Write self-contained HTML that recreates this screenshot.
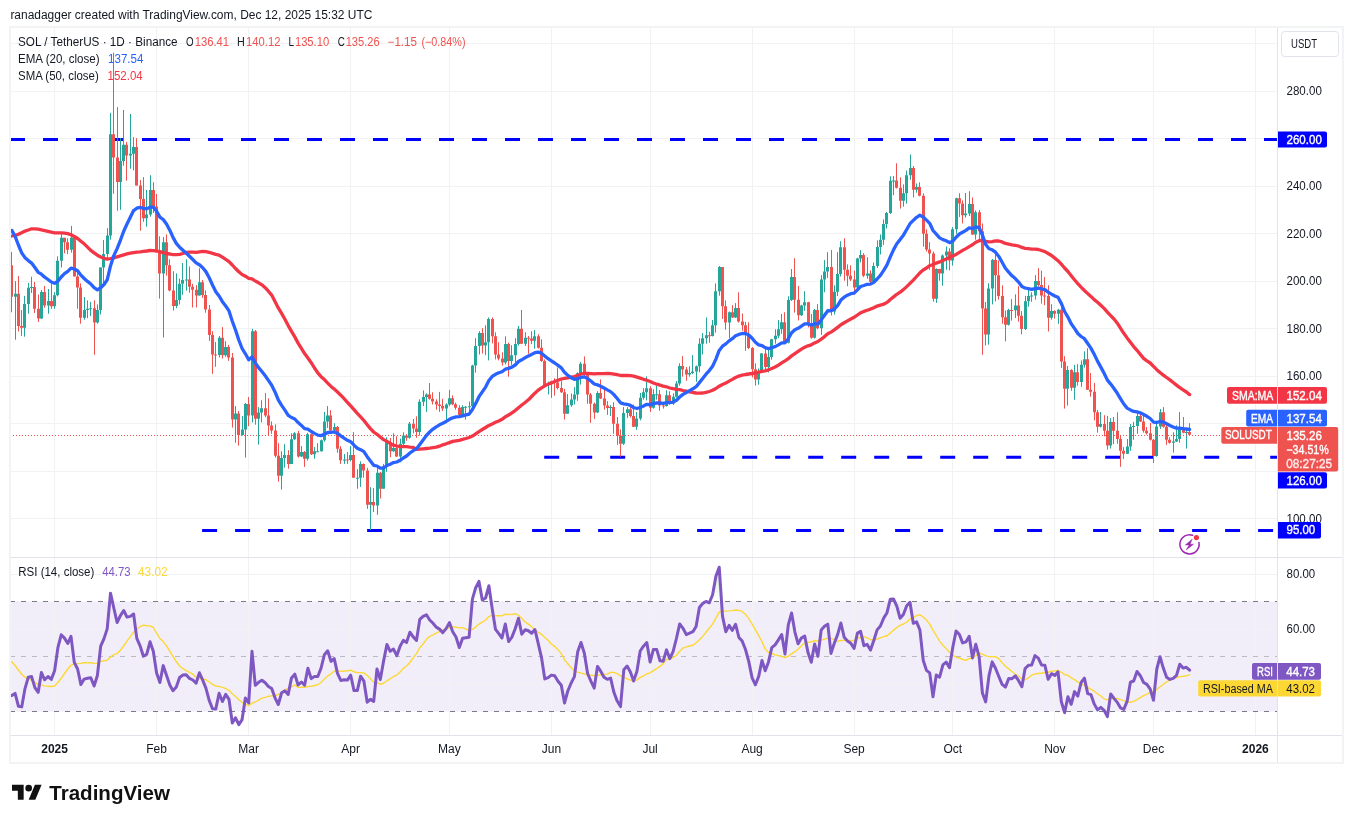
<!DOCTYPE html><html><head><meta charset="utf-8"><title>SOLUSDT chart</title>
<style>html,body{margin:0;padding:0;background:#fff}svg{display:block;font-family:'Liberation Sans', sans-serif;font-size:12px;fill:#131722}</style>
</head><body>
<svg width="1353" height="823" viewBox="0 0 1353 823">
<rect width="1353" height="823" fill="#fff"/>
<defs><clipPath id="cm"><rect x="10.5" y="28" width="1267" height="529.5"/></clipPath><linearGradient id="gg" gradientUnits="userSpaceOnUse" x1="0" y1="518.8" x2="0" y2="601.3"><stop offset="0" stop-color="#4caf50" stop-opacity="0.7"/><stop offset="1" stop-color="#4caf50" stop-opacity="0"/></linearGradient><linearGradient id="gr" gradientUnits="userSpaceOnUse" x1="0" y1="711.3" x2="0" y2="793.8"><stop offset="0" stop-color="#f44336" stop-opacity="0"/><stop offset="1" stop-color="#f44336" stop-opacity="0.7"/></linearGradient><clipPath id="cr"><rect x="10.5" y="558.5" width="1267" height="176.5"/></clipPath></defs>
<rect x="11" y="601.5" width="1266.5" height="110" fill="#f2eef9"/>
<path d="M54.5 28V735M156.5 28V735M248.5 28V735M350.5 28V735M449.5 28V735M551.5 28V735M650.5 28V735M752.5 28V735M854.5 28V735M952.5 28V735M1054.5 28V735M1153.5 28V735M1255.5 28V735M10.5 518.5H1277M10.5 471.5H1277M10.5 423.5H1277M10.5 376.5H1277M10.5 328.5H1277M10.5 281.5H1277M10.5 233.5H1277M10.5 186.5H1277M10.5 138.5H1277M10.5 91.5H1277M10.5 43.5H1277M10.5 574.5H1277M10.5 629.5H1277M10.5 684.5H1277" stroke="#f1f2f3" stroke-width="1" fill="none"/>
<path d="M10 601.5H1277" stroke="#787b86" stroke-width="1" stroke-dasharray="5 6" fill="none"/>
<path d="M10 656.5H1277" stroke="#b9bbc3" stroke-width="1" stroke-dasharray="5 6" fill="none"/>
<path d="M10 711.5H1277" stroke="#787b86" stroke-width="1" stroke-dasharray="5 6" fill="none"/>
<g clip-path="url(#cm)">
<path d="M10 139.5H25M43 139.5H58M76 139.5H91M109 139.5H124M142 139.5H157M175 139.5H190M208 139.5H223M241 139.5H256M274 139.5H289M307 139.5H322M340 139.5H355M373 139.5H388M406 139.5H421M439 139.5H454M472 139.5H487M505 139.5H520M538 139.5H553M571 139.5H586M604 139.5H619M637 139.5H652M670 139.5H685M703 139.5H718M736 139.5H751M769 139.5H784M802 139.5H817M835 139.5H850M868 139.5H883M901 139.5H916M934 139.5H949M967 139.5H982M1000 139.5H1015M1033 139.5H1048M1066 139.5H1081M1099 139.5H1114M1132 139.5H1147M1165 139.5H1180M1198 139.5H1213M1231 139.5H1246M1264 139.5H1277.5M544.2 457.3H559.2M577.2 457.3H592.2M610.2 457.3H625.2M643.2 457.3H658.2M676.2 457.3H691.2M709.2 457.3H724.2M742.2 457.3H757.2M775.2 457.3H790.2M808.2 457.3H823.2M841.2 457.3H856.2M874.2 457.3H889.2M907.2 457.3H922.2M940.2 457.3H955.2M973.2 457.3H988.2M1006.2 457.3H1021.2M1039.2 457.3H1054.2M1072.2 457.3H1087.2M1105.2 457.3H1120.2M1138.2 457.3H1153.2M1171.2 457.3H1186.2M1204.2 457.3H1219.2M1237.2 457.3H1252.2M1270.2 457.3H1277.5M202.1 530.5H217.1M235.1 530.5H250.1M268.1 530.5H283.1M301.1 530.5H316.1M334.1 530.5H349.1M367.1 530.5H382.1M400.1 530.5H415.1M433.1 530.5H448.1M466.1 530.5H481.1M499.1 530.5H514.1M532.1 530.5H547.1M565.1 530.5H580.1M598.1 530.5H613.1M631.1 530.5H646.1M664.1 530.5H679.1M697.1 530.5H712.1M730.1 530.5H745.1M763.1 530.5H778.1M796.1 530.5H811.1M829.1 530.5H844.1M862.1 530.5H877.1M895.1 530.5H910.1M928.1 530.5H943.1M961.1 530.5H976.1M994.1 530.5H1009.1M1027.1 530.5H1042.1M1060.1 530.5H1075.1M1093.1 530.5H1108.1M1126.1 530.5H1141.1M1159.1 530.5H1174.1M1192.1 530.5H1207.1M1225.1 530.5H1240.1M1258.1 530.5H1273.1" stroke="#0000ff" stroke-width="3" fill="none"/>
<path d="M15.5 281.1V339.7M24.5 295.9V336.7M28.5 283V313.7M31.5 276.7V293M41.5 290V318.9M48.5 289V313.7M54.5 292.2V308.8M57.5 256.3V296.4M61.5 234.1V267.5M71.5 225.9V252.6M84.5 297V319.7M87.5 300.4V318.2M90.5 301.9V316M97.5 304.4V323.7M100.5 267.5V314.5M103.5 240V284.8M107.5 228.2V257.8M110.5 112.9V239.7M120.5 138.2V209.8M123.5 110V165.6M130.5 114V168.8M133.5 137.1V170.3M146.5 190V226.7M150.5 175.2V216.7M163.5 237.1V337.5M176.5 273.4V308.2M179.5 278.6V304.5M182.5 263V294.9M186.5 259.3V290.7M199.5 268.2V295.6M219.5 336V357.5M225.5 341.1V356.7M235.5 406.1V442.7M242.5 416V435.5M245.5 403V457.6M252.5 328.8V422.4M258.5 407.1V444.7M261.5 400.2V422.4M281.5 451.3V489.6M284.5 444.2V467.6M291.5 433.3V463.9M294.5 432.1V440.2M301.5 446.1V457M307.5 432.8V460.5M314.5 446.9V458.8M317.5 443.2V452M321.5 439.5V451.6M324.5 412V441.7M327.5 406.1V427.9M334.5 423.2V433.5M344.5 454V463.9M350.5 446.1V461.4M357.5 469.1V488.7M360.5 461.3V486.9M370.5 487.2V530M377.5 467.9V514.8M383.5 463.9V488.7M386.5 437.3V471.8M393.5 433.3V452M400.5 438.6V462.3M403.5 432.3V447.5M409.5 422V438.6M419.5 399.3V435.6M423.5 390.4V406M426.5 393.4V411.9M446.5 403.3V422.3M449.5 389.9V406M462.5 405.2V416.3M465.5 406V419.6M469.5 401.5V411.9M472.5 364.8V407M475.5 338.2V372.7M479.5 331.2V354.5M485.5 325.3V355.2M488.5 317.4V360.4M505.5 336.3V364.4M511.5 345.2V364.9M515.5 338.2V362.3M518.5 325.9V345.6M525.5 332.3V346M534.5 330V348.6M548.5 381.6V394.5M551.5 380.7V397.9M567.5 394.1V414M571.5 393.5V406.7M574.5 387.1V404.5M577.5 372.3V400.9M580.5 361.9V384.6M597.5 391.2V413M610.5 405.2V416M623.5 407.1V444.9M627.5 407.1V417.9M636.5 412V429.8M640.5 393V420.4M643.5 388.2V399.7M646.5 376.4V400.4M653.5 389.3V408.6M656.5 385.6V399.7M666.5 390.3V406.6M673.5 393.3V404.9M676.5 381.1V397.7M679.5 363.3V385.6M689.5 366.3V376.7M692.5 355.1V374M696.5 365.5V381.9M699.5 338.2V372.2M702.5 333V354.5M706.5 317.5V343.7M712.5 320V336.5M715.5 283.4V332.7M719.5 266V295.7M729.5 311.5V338.2M735.5 303.1V318M758.5 368.5V384.8M761.5 353V372M768.5 347.9V372.5M771.5 338.8V359.7M775.5 329.3V343.7M778.5 320V338.2M781.5 314V333.8M788.5 296.3V343.4M791.5 269V301M801.5 304.8V316M804.5 291.2V310.8M814.5 309V338.5M821.5 275.2V334.8M824.5 260.1V292.3M827.5 252.2V277.9M834.5 285.3V314.5M837.5 252.2V296M840.5 241.2V276.5M857.5 257.8V289M860.5 250.1V262.4M867.5 257.2V278.7M873.5 262.4V282.5M877.5 240.4V268M880.5 234.5V254.5M883.5 219.4V244.9M886.5 212V228.6M890.5 176.4V214M893.5 175.9V195.2M903.5 184.4V206.6M906.5 170.5V203.7M910.5 154.4V179.7M916.5 183.4V192.7M936.5 268.3V302.9M942.5 254.5V285.7M946.5 246.5V269.8M952.5 227.1V265.5M956.5 197.7V233.8M965.5 193V217.5M969.5 191.2V216M975.5 210.5V239.7M988.5 283.2V344.7M992.5 259V304.4M1008.5 308.8V325.5M1015.5 294.3V318M1025.5 295.9V330M1028.5 288.5V306.7M1031.5 292.3V301.8M1035.5 275.1V299.7M1051.5 304.2V319.6M1058.5 308.9V323.8M1067.5 366V405.6M1074.5 364.8V399.7M1081.5 360.4V386.8M1084.5 351.2V367.5M1100.5 412V427.5M1110.5 418.2V448.6M1127.5 439V454M1130.5 424.1V450.8M1133.5 421.9V439.7M1137.5 412.3V433.8M1156.5 420.9V456.7M1160.5 409V428.9M1173.5 432.3V452.6M1176.5 425.3V442M1179.5 412V442.7M1186.5 428.6V448.6" stroke="#26a69a" stroke-width="1" fill="none"/>
<path d="M14 293.7h3V296.7h-3zM23 304.1h3V327.8h-3zM27 287.8h3V304.1h-3zM30 287h3V288h-3zM40 291.9h3V318.6h-3zM47 301.1h3V305.6h-3zM53 295.2h3V306.3h-3zM56 260.8h3V295.2h-3zM60 237.8h3V260.8h-3zM70 237.8h3V249.7h-3zM83 310h3V317.7h-3zM86 308.8h3V310h-3zM89 308.2h3V309.2h-3zM96 310h3V322.6h-3zM99 267.5h3V310h-3zM102 254.1h3V267.5h-3zM106 235.6h3V254.1h-3zM109 134.2h3V235.6h-3zM119 161.1h3V181.9h-3zM122 144.8h3V161.1h-3zM129 153.7h3V155.5h-3zM132 147h3V153.7h-3zM145 214.5h3V218.2h-3zM149 190h3V214.5h-3zM162 242.3h3V273.4h-3zM175 300h3V306h-3zM178 283.8h3V300h-3zM181 280h3V283.8h-3zM185 279.6h3V280.6h-3zM198 282.3h3V295.6h-3zM218 337.7h3V355h-3zM224 347.1h3V355.2h-3zM234 413.5h3V419.5h-3zM241 429.4h3V435h-3zM244 403.9h3V429.4h-3zM251 331.2h3V415.5h-3zM257 412.5h3V418.7h-3zM260 408.3h3V412.5h-3zM280 458h3V475.8h-3zM283 455h3V458h-3zM290 439.2h3V463.9h-3zM293 433.3h3V439.2h-3zM300 452.1h3V456.5h-3zM306 434.3h3V458.8h-3zM313 451.3h3V454.3h-3zM316 451.3h3V452.3h-3zM320 440.2h3V451.3h-3zM323 421.4h3V440.2h-3zM326 415.5h3V421.4h-3zM333 426.9h3V430.6h-3zM343 459.5h3V460.5h-3zM349 455h3V459.9h-3zM356 477.7h3V478.7h-3zM359 463.9h3V477.7h-3zM369 502h3V504.7h-3zM376 472.8h3V505.5h-3zM382 466.2h3V488.7h-3zM385 442.1h3V466.2h-3zM392 448.1h3V451.3h-3zM399 443.8h3V456.5h-3zM402 435.6h3V443.8h-3zM408 423.8h3V437.8h-3zM418 401.8h3V431.9h-3zM422 397.1h3V401.8h-3zM425 394.4h3V397.1h-3zM445 404.5h3V408.6h-3zM448 398.3h3V404.5h-3zM461 407.1h3V414.9h-3zM464 406.7h3V407.7h-3zM468 406.3h3V407.3h-3zM471 365.6h3V406.3h-3zM474 346h3V365.6h-3zM478 333h3V346h-3zM484 342.2h3V345.6h-3zM487 318.9h3V342.2h-3zM504 344.1h3V362.6h-3zM510 355.2h3V360.9h-3zM514 344.1h3V355.2h-3zM517 328.8h3V344.1h-3zM524 337.7h3V343.7h-3zM533 336.3h3V340.7h-3zM547 383.7h3V384.9h-3zM550 381.6h3V383.7h-3zM566 405.2h3V413.7h-3zM570 399.4h3V405.2h-3zM573 394.5h3V399.4h-3zM576 373.3h3V394.5h-3zM579 363.8h3V373.3h-3zM596 393h3V412.6h-3zM609 407.1h3V408.1h-3zM622 413h3V443.7h-3zM626 409.3h3V413h-3zM635 418.5h3V426.8h-3zM639 397.7h3V418.5h-3zM642 392.3h3V397.7h-3zM645 388.2h3V392.3h-3zM652 394.2h3V407.8h-3zM655 394.2h3V395.2h-3zM665 395.2h3V406h-3zM672 396.7h3V403.4h-3zM675 383.4h3V396.7h-3zM678 366h3V383.4h-3zM688 373h3V374.5h-3zM691 371.5h3V373h-3zM695 366.3h3V371.5h-3zM698 343.7h3V366.3h-3zM701 338.2h3V343.7h-3zM705 335.2h3V338.2h-3zM711 325.3h3V336h-3zM714 291.2h3V325.3h-3zM718 267h3V291.2h-3zM728 312.3h3V322.6h-3zM734 308.1h3V317.5h-3zM757 371h3V379.4h-3zM760 353.4h3V371h-3zM767 357h3V367h-3zM770 339.3h3V357h-3zM774 335.7h3V339.3h-3zM777 329.3h3V335.7h-3zM780 322.3h3V329.3h-3zM787 300.1h3V342.7h-3zM790 277h3V300.1h-3zM800 305.6h3V315.2h-3zM803 302.2h3V305.6h-3zM813 310h3V337.8h-3zM820 279.4h3V328.3h-3zM823 271.5h3V279.4h-3zM826 267h3V271.5h-3zM833 291.8h3V311.5h-3zM836 274h3V291.8h-3zM839 247.2h3V274h-3zM856 258.4h3V287.6h-3zM859 255h3V258.4h-3zM866 273.5h3V275.8h-3zM872 266.1h3V281.7h-3zM876 247.1h3V266.1h-3zM879 239.7h3V247.1h-3zM882 224.1h3V239.7h-3zM885 213h3V224.1h-3zM889 180.8h3V213h-3zM892 180.5h3V181.5h-3zM902 193.3h3V200.7h-3zM905 175.2h3V193.3h-3zM909 168.1h3V175.2h-3zM915 187.1h3V189.7h-3zM935 269.1h3V298.8h-3zM941 255.5h3V273.5h-3zM945 251.4h3V255.5h-3zM951 229.3h3V260.5h-3zM955 198.2h3V229.3h-3zM964 213.5h3V215.2h-3zM968 204.1h3V213.5h-3zM974 212.3h3V234.5h-3zM987 288.4h3V334.6h-3zM991 259.9h3V288.4h-3zM1007 309.9h3V324.7h-3zM1014 305.4h3V310.2h-3zM1024 301.2h3V328.9h-3zM1027 295.9h3V301.2h-3zM1030 295.6h3V296.6h-3zM1034 281.1h3V295.6h-3zM1050 311.1h3V317.8h-3zM1057 309.7h3V313.7h-3zM1066 370h3V388.8h-3zM1073 372.2h3V387.8h-3zM1080 364.8h3V381.9h-3zM1083 359.2h3V364.8h-3zM1099 424.1h3V426.8h-3zM1109 421.9h3V445.6h-3zM1126 446.4h3V453.8h-3zM1129 427.1h3V446.4h-3zM1132 425.9h3V427.1h-3zM1136 416h3V425.9h-3zM1155 426.4h3V456h-3zM1159 412.3h3V426.4h-3zM1172 441.6h3V442.7h-3zM1175 439h3V441.6h-3zM1178 428.6h3V439h-3zM1185 432h3V433h-3z" fill="#26a69a"/>
<path d="M11.5 251.9V312.3M18.5 275.9V331.5M21.5 310V336M34.5 281.9V313M38.5 294.5V321.9M44.5 286V307.8M51.5 283.3V308.8M64.5 237.8V253.4M67.5 238.3V254.1M74.5 235.6V276.4M77.5 272.6V308.8M80.5 283.3V323.7M94.5 300.4V354.8M113.5 52.7V193.8M117.5 107.1V210.8M126.5 141.9V180.7M136.5 138.2V185.6M140.5 180.1V230.8M143.5 177.1V221.9M153.5 182.2V213M156.5 194V250.4M159.5 236.3V298.6M166.5 234.4V275.6M169.5 259.3V291.2M173.5 271.2V310.5M189.5 266.4V292.7M192.5 283.8V307.5M196.5 285.2V307.5M202.5 280V297.9M205.5 290.4V312.7M209.5 305V340.9M212.5 331.2V373.8M215.5 341.9V366.8M222.5 327.1V358.5M228.5 344.9V360.9M232.5 353V427.6M238.5 411V445.7M248.5 397V426.1M255.5 330V424.7M265.5 393V417.2M268.5 398.3V435.3M271.5 421.4V433.8M275.5 424.4V457.6M278.5 443.2V481.7M288.5 450.2V468.7M298.5 430.9V457.6M304.5 451V466.9M311.5 433.3V455M330.5 410.1V432.4M337.5 426V452.8M340.5 446.1V463.9M347.5 452.1V463.9M353.5 432.1V477.7M363.5 463.5V477.7M367.5 467.9V508.9M373.5 488.1V512.1M380.5 472V498.5M390.5 438V457.3M396.5 436.2V457M406.5 434.1V440.8M413.5 419V433.4M416.5 416.3V437.8M429.5 383V399.7M432.5 392.3V404.5M436.5 399.3V409.7M439.5 391.9V411.9M442.5 398.8V411.1M452.5 395.3V405.2M455.5 402.7V409.7M459.5 405.2V415.5M482.5 328.2V353.5M492.5 317.4V343.4M495.5 332.3V359.4M498.5 342.2V360.4M502.5 352.3V365.6M508.5 342.6V376.7M521.5 310V344.1M528.5 336V353.8M531.5 331.2V344.1M538.5 334.2V348.6M541.5 339.2V361.9M544.5 359.4V385.2M554.5 378.2V395.6M557.5 367.4V389.5M561.5 380.7V393M564.5 388.9V419.6M584.5 356.4V377.8M587.5 372.5V403.8M590.5 393V422.9M594.5 402.6V418.9M600.5 379.4V399M604.5 389.3V409.6M607.5 401.1V414.9M613.5 402.2V433.8M617.5 417V444.9M620.5 429.3V456.7M630.5 404.1V417.5M633.5 404.6V427M650.5 386.3V412M659.5 390V410.8M663.5 402.6V408.6M669.5 391.2V404.6M682.5 356.1V376.7M686.5 367V380.8M709.5 331.8V342.7M722.5 267V318.9M725.5 300.4V329.8M732.5 305.2V318M738.5 292.3V322.6M742.5 313.5V330.8M745.5 321.9V350.8M748.5 322.3V349M752.5 347V377.4M755.5 363.3V385.6M765.5 348.6V370.8M784.5 312.3V343.7M794.5 258.2V312.6M798.5 285.9V320.4M808.5 301.8V327.4M811.5 314V338.7M817.5 304.1V329.3M831.5 250V315.5M844.5 238.3V280.7M847.5 264.4V286.2M850.5 265.4V281M854.5 270.6V294.6M863.5 253.1V277M870.5 270.3V283M896.5 163.3V188.5M900.5 177.4V208.6M913.5 166V197.4M919.5 182.3V196.3M923.5 193.3V246.7M926.5 229.3V251.6M929.5 242.2V269.8M933.5 251.6V301.7M939.5 268.8V280.7M949.5 248.3V270.4M959.5 193.3V217M962.5 200.4V223.4M972.5 197.4V235M979.5 210V239.7M982.5 223.4V354.8M985.5 302V345.5M995.5 254.3V301.4M998.5 260.5V299.5M1002.5 285.4V323.7M1005.5 310.6V341.4M1011.5 299V320.7M1018.5 286.1V321.7M1021.5 311.1V334.4M1038.5 268.2V286.5M1041.5 270.7V303.7M1044.5 277V305.2M1048.5 285.2V331.5M1054.5 310.3V318.6M1061.5 307.4V367.9M1064.5 356.2V408.6M1071.5 369.2V390.8M1077.5 364.1V385.6M1087.5 348.2V390M1090.5 373V396.7M1094.5 382.9V420.4M1097.5 410V432.7M1104.5 415.2V436.3M1107.5 416V449.6M1113.5 417V444.1M1117.5 412.3V443.7M1120.5 435.2V466.8M1123.5 447.1V459M1140.5 413V422M1143.5 415.2V432.7M1146.5 427.1V434.5M1150.5 422.9V440.5M1153.5 439V463M1163.5 407.1V427.8M1166.5 422.3V444.9M1169.5 437.2V443.7M1183.5 417V433.3M1189.5 423.2V435.1" stroke="#ef5350" stroke-width="1" fill="none"/>
<path d="M10 265.2h3V296.7h-3zM17 293.7h3V326h-3zM20 326h3V327.8h-3zM33 287h3V308.8h-3zM37 308.8h3V318.6h-3zM43 291.9h3V305.6h-3zM50 301.1h3V306.3h-3zM63 237.8h3V242.3h-3zM66 242.3h3V249.7h-3zM73 237.8h3V276.4h-3zM76 276.4h3V287.5h-3zM79 287.5h3V317.7h-3zM93 308.2h3V322.6h-3zM112 134.2h3V157.4h-3zM116 157.4h3V181.9h-3zM125 144.8h3V155.5h-3zM135 147h3V185.6h-3zM139 185.6h3V198.9h-3zM142 198.9h3V218.2h-3zM152 190h3V206.4h-3zM155 206.4h3V250.4h-3zM158 250.4h3V273.4h-3zM165 242.3h3V265.2h-3zM168 265.2h3V290.4h-3zM172 290.4h3V306h-3zM188 279.6h3V286.7h-3zM191 286.7h3V289.7h-3zM195 289.7h3V295.6h-3zM201 282.3h3V294.9h-3zM204 294.9h3V309.5h-3zM208 309.5h3V334.9h-3zM211 334.9h3V354.5h-3zM214 354.5h3V355.5h-3zM221 337.7h3V355.2h-3zM227 347.1h3V357.5h-3zM231 357.5h3V419.5h-3zM237 413.5h3V435h-3zM247 403.9h3V415.5h-3zM254 331.2h3V418.7h-3zM264 408.3h3V415.5h-3zM267 415.5h3V425.4h-3zM270 425.4h3V430.6h-3zM274 430.6h3V455.8h-3zM277 455.8h3V475.8h-3zM287 455h3V463.9h-3zM297 433.3h3V456.5h-3zM303 452.1h3V458.8h-3zM310 434.3h3V454.3h-3zM329 415.5h3V430.6h-3zM336 426.9h3V448.7h-3zM339 448.7h3V460.2h-3zM346 459.5h3V460.5h-3zM352 455h3V477.7h-3zM362 463.9h3V470.6h-3zM366 470.6h3V504.7h-3zM372 502h3V505.5h-3zM379 472.8h3V488.7h-3zM389 442.1h3V451.3h-3zM395 448.1h3V456.5h-3zM405 435.6h3V437.8h-3zM412 423.8h3V428.5h-3zM415 428.5h3V431.9h-3zM428 394.4h3V398.8h-3zM431 398.8h3V401.5h-3zM435 401.5h3V404.5h-3zM438 404.5h3V406h-3zM441 406h3V408.6h-3zM451 398.3h3V404.2h-3zM454 404.2h3V407.7h-3zM458 407.7h3V414.9h-3zM481 333h3V345.6h-3zM491 318.9h3V336.3h-3zM494 336.3h3V354.5h-3zM497 354.5h3V358.5h-3zM501 358.5h3V362.6h-3zM507 344.1h3V360.9h-3zM520 328.8h3V343.7h-3zM527 337.7h3V338.7h-3zM530 338.6h3V340.7h-3zM537 336.3h3V347.8h-3zM540 347.8h3V360.9h-3zM543 360.9h3V384.9h-3zM553 381.6h3V382.6h-3zM556 382.4h3V388.1h-3zM560 388.1h3V392.3h-3zM563 392.3h3V413.7h-3zM583 363.8h3V373.3h-3zM586 373.3h3V394.5h-3zM589 394.5h3V403.7h-3zM593 403.7h3V412.6h-3zM599 393h3V398.6h-3zM603 398.6h3V405.6h-3zM606 405.6h3V408.1h-3zM612 407.1h3V423.7h-3zM616 423.7h3V435.7h-3zM619 435.7h3V443.7h-3zM629 409.3h3V416h-3zM632 416h3V426.8h-3zM649 388.2h3V407.8h-3zM658 394.2h3V405.6h-3zM662 405.6h3V406.6h-3zM668 395.2h3V403.4h-3zM681 366h3V369.5h-3zM685 369.5h3V374.5h-3zM708 335.2h3V336.2h-3zM721 267h3V306.3h-3zM724 306.3h3V322.6h-3zM731 312.3h3V317.5h-3zM737 308.1h3V321.5h-3zM741 321.5h3V325.3h-3zM744 325.3h3V334.2h-3zM747 334.2h3V347.9h-3zM751 347.9h3V369.3h-3zM754 369.3h3V379.4h-3zM764 353.4h3V367h-3zM783 322.3h3V342.7h-3zM793 277h3V299.7h-3zM797 299.7h3V315.2h-3zM807 302.2h3V323.8h-3zM810 323.8h3V337.8h-3zM816 310h3V328.3h-3zM830 267h3V311.5h-3zM843 247.2h3V269.8h-3zM846 269.8h3V275.8h-3zM849 275.8h3V279.5h-3zM853 279.5h3V287.6h-3zM862 255h3V275.8h-3zM869 273.5h3V281.7h-3zM895 180.5h3V187.8h-3zM899 187.8h3V200.7h-3zM912 168.1h3V189.7h-3zM918 187.1h3V195.7h-3zM922 195.7h3V233.8h-3zM925 233.8h3V249.6h-3zM928 249.6h3V253.6h-3zM932 253.6h3V298.8h-3zM938 269.1h3V273.5h-3zM948 251.4h3V260.5h-3zM958 198.2h3V203.4h-3zM961 203.4h3V215.2h-3zM971 204.1h3V234.5h-3zM978 212.3h3V231.2h-3zM981 231.2h3V308.4h-3zM984 308.4h3V334.6h-3zM994 259.9h3V275.3h-3zM997 275.3h3V296.1h-3zM1001 296.1h3V317.3h-3zM1004 317.3h3V324.7h-3zM1010 309.9h3V310.9h-3zM1017 305.4h3V315.8h-3zM1020 315.8h3V328.9h-3zM1037 281.1h3V284.9h-3zM1040 284.9h3V295.6h-3zM1043 295.6h3V296.6h-3zM1047 295.9h3V317.8h-3zM1053 311.1h3V313.7h-3zM1060 309.7h3V361.5h-3zM1063 361.5h3V388.8h-3zM1070 370h3V387.8h-3zM1076 372.2h3V381.9h-3zM1086 359.2h3V389.7h-3zM1089 389.7h3V391.8h-3zM1093 391.8h3V412.3h-3zM1096 412.3h3V426.8h-3zM1103 424.1h3V430.8h-3zM1106 430.8h3V445.6h-3zM1112 421.9h3V430.8h-3zM1116 430.8h3V439h-3zM1119 439h3V450.8h-3zM1122 450.8h3V453.8h-3zM1139 416h3V421.5h-3zM1142 421.5h3V430.8h-3zM1145 430.8h3V433.3h-3zM1149 433.3h3V439.7h-3zM1152 439.7h3V456h-3zM1162 412.3h3V426.8h-3zM1165 426.8h3V439.7h-3zM1168 439.7h3V442.7h-3zM1182 428.6h3V432.7h-3zM1188 432h3V434.8h-3z" fill="#ef5350"/>
<path d="M10 435.5H1221" stroke="#ef5350" stroke-width="1" stroke-dasharray="1 2" fill="none"/>
<polyline points="11.8,236 15.1,235.3 18.4,234.3 21.7,232.7 25,231.1 28.3,230 31.6,228.8 34.9,228.9 38.2,229.2 41.4,229.8 44.7,230.6 48,231.4 51.3,232.2 54.6,232.9 57.9,232.9 61.2,232.9 64.5,233.2 67.8,233.6 71,234.7 74.3,236.5 77.6,238.5 80.9,241.2 84.2,243.8 87.5,247.1 90.8,250.4 94.1,252.9 97.4,255.2 100.7,257 104,258.3 107.2,259.1 110.5,258.5 113.8,257.8 117.1,256.8 120.4,255.8 123.7,254.8 127,253.9 130.3,253.1 133.6,252.6 136.8,252.1 140.1,251.8 143.4,251.4 146.7,251 150,250.5 153.3,250.7 156.6,251 159.9,251.6 163.2,252.6 166.5,253.5 169.8,254 173,254.6 176.3,254.6 179.6,254.4 182.9,253.5 186.2,252.5 189.5,252.2 192.8,252.2 196.1,252.4 199.4,251.9 202.7,251.4 205.9,251.7 209.2,252.3 212.5,253.4 215.8,254.4 219.1,255.2 222.4,257.1 225.7,259.3 229,261.6 232.3,265 235.5,268.5 238.8,271.7 242.1,274.5 245.4,276.2 248.7,278.4 252,278.8 255.3,281 258.6,282.8 261.9,284.8 265.2,287.7 268.4,291.2 271.7,295.1 275,301.5 278.3,307.9 281.6,313.4 284.9,319.3 288.2,325.6 291.5,331.3 294.8,336.9 298.1,343.1 301.4,348.4 304.6,353.6 307.9,358 311.2,362.7 314.5,368 317.8,372.9 321.1,376.7 324.4,379.6 327.7,383.1 331,386.4 334.2,389.1 337.5,392 340.8,395.2 344.1,398.7 347.4,402.3 350.7,405.8 354,409.6 357.3,413.4 360.6,416.8 363.9,420.5 367.2,424.7 370.4,428.6 373.7,432 377,434.3 380.3,437 383.6,439.6 386.9,441.3 390.2,443.4 393.5,445.2 396.8,446 400.1,446.6 403.3,446.6 406.6,446.7 409.9,447.1 413.2,447.4 416.5,449.4 419.8,449.1 423.1,448.8 426.4,448.5 429.7,448.2 433,447.7 436.2,447.2 439.5,446.2 442.8,444.8 446.1,443.8 449.4,442.6 452.7,441.4 456,440.8 459.3,440.4 462.6,439.4 465.9,438.5 469.1,437.5 472.4,436.1 475.7,433.9 479,431.6 482.3,429.5 485.6,427.5 488.9,425.4 492.2,423.9 495.5,422.3 498.8,421 502,419.3 505.3,416.9 508.6,415 511.9,412.9 515.2,410.6 518.5,407.7 521.8,405 525.1,402.5 528.4,399.8 531.6,396.5 534.9,393.2 538.2,390.1 541.5,387.8 544.8,385.8 548.1,384.1 551.4,382.9 554.7,381.5 558,380.3 561.3,379 564.5,378.4 567.8,377.8 571.1,377.1 574.4,376.5 577.7,375.4 581,374 584.3,373.4 587.6,373.4 590.9,373.6 594.2,373.9 597.5,373.7 600.7,373.6 604,373.6 607.3,373.5 610.6,373.6 613.9,374.1 617.2,374.7 620.5,375.5 623.8,375.4 627.1,375.5 630.4,375.6 633.6,376.1 636.9,377.1 640.2,378.1 643.5,379.3 646.8,380.2 650.1,381.5 653.4,383 656.7,384.2 660,385.2 663.2,386.1 666.5,386.8 669.8,388 673.1,388.7 676.4,389.3 679.7,389.7 683,390.5 686.3,391.1 689.6,391.8 692.9,392.5 696.1,393 699.4,393.1 702.7,393 706,392.4 709.3,391.5 712.6,390.3 715.9,388.5 719.2,386.2 722.5,384.5 725.8,383.1 729.1,381.1 732.3,379.4 735.6,377.5 738.9,376.1 742.2,375.1 745.5,374.5 748.8,374 752.1,373.5 755.4,373 758.7,372.2 762,371.4 765.2,370.8 768.5,369.8 771.8,368.4 775.1,367 778.4,365.1 781.7,362.8 785,360.8 788.3,358.6 791.6,355.9 794.9,353.6 798.1,351.4 801.4,349.1 804.7,347.2 808,345.8 811.3,344.8 814.6,342.9 817.9,341.5 821.2,339.2 824.5,336.6 827.8,333.8 831,332.1 834.3,329.9 837.6,327.4 840.9,324.7 844.2,322.8 847.5,320.9 850.8,319 854.1,317.3 857.4,315 860.6,312.8 863.9,311.4 867.2,310.2 870.5,309.1 873.8,307.7 877.1,306.1 880.4,305.1 883.7,304.2 887,302.4 890.3,299.5 893.6,296.9 896.8,294.3 900.1,292.2 903.4,289.6 906.7,286.6 910,283.3 913.3,280.1 916.6,276.5 919.9,272.8 923.2,270 926.5,268 929.7,265.7 933,264.5 936.3,263.1 939.6,261.9 942.9,260.4 946.2,259 949.5,257.3 952.8,255.9 956.1,254.4 959.4,252.4 962.6,250.4 965.9,248.6 969.2,246.6 972.5,244.8 975.8,242.3 979.1,240.7 982.4,240.4 985.7,241.5 989,241.8 992.2,241.7 995.5,240.9 998.8,241 1002.1,241.9 1005.4,243.4 1008.7,244.2 1012,244.9 1015.3,245.4 1018.6,246 1021.9,247.4 1025.1,248.3 1028.4,248.7 1031.7,249.2 1035,249.2 1038.3,249.5 1041.6,250.5 1044.9,251.6 1048.2,253.5 1051.5,255.5 1054.8,258.1 1058,260.7 1061.3,264.2 1064.6,268 1067.9,271.5 1071.2,275.7 1074.5,279.8 1077.8,283.7 1081.1,287.2 1084.4,290.5 1087.7,293.6 1090.9,296.4 1094.2,299.6 1097.5,302.2 1100.8,305.3 1104.1,308.4 1107.4,312.2 1110.7,315.6 1114,319 1117.3,323.2 1120.6,328.3 1123.8,333.3 1127.1,337.9 1130.4,342.2 1133.7,346.6 1137,350.3 1140.3,354.4 1143.6,358.4 1146.9,360.9 1150.2,363 1153.5,366.4 1156.8,369.7 1160,372.5 1163.3,375.1 1166.6,377.5 1169.9,379.9 1173.2,382.5 1176.5,385.1 1179.8,387.6 1183.1,389.9 1186.4,392 1189.6,394.6" fill="none" stroke="#f23645" stroke-width="3.3" stroke-linejoin="round" stroke-linecap="round"/>
<polyline points="11.8,230.4 15.1,236.4 18.4,245 21.7,252.8 25,257.7 28.3,260.6 31.6,263.1 34.9,267.5 38.2,272.3 41.4,274.2 44.7,277.2 48,279.5 51.3,282 54.6,283.3 57.9,281.1 61.2,277 64.5,273.7 67.8,271.4 71,268.2 74.3,269 77.6,270.8 80.9,275.2 84.2,278.5 87.5,281.4 90.8,284 94.1,287.7 97.4,289.8 100.7,287.7 104,284.5 107.2,279.8 110.5,265.9 113.8,255.6 117.1,248.6 120.4,240.3 123.7,231.2 127,224 130.3,217.3 133.6,210.6 136.8,208.2 140.1,207.3 143.4,208.3 146.7,208.9 150,207.1 153.3,207.1 156.6,211.2 159.9,217.1 163.2,219.5 166.5,223.9 169.8,230.2 173,237.4 176.3,243.4 179.6,247.2 182.9,250.3 186.2,253.1 189.5,256.3 192.8,259.5 196.1,262.9 199.4,264.8 202.7,267.7 205.9,271.6 209.2,277.7 212.5,285 215.8,291.7 219.1,296 222.4,301.7 225.7,306 229,310.9 232.3,321.2 235.5,330 238.8,340 242.1,348.5 245.4,353.8 248.7,359.7 252,357 255.3,362.9 258.6,367.6 261.9,371.5 265.2,375.7 268.4,380.4 271.7,385.2 275,391.9 278.3,399.9 281.6,405.4 284.9,410.1 288.2,415.3 291.5,417.5 294.8,419 298.1,422.6 301.4,425.4 304.6,428.6 307.9,429.1 311.2,431.5 314.5,433.4 317.8,435.1 321.1,435.6 324.4,434.3 327.7,432.5 331,432.3 334.2,431.8 337.5,433.4 340.8,435.9 344.1,438.2 347.4,440.3 350.7,441.7 354,445.1 357.3,448.2 360.6,449.7 363.9,451.7 367.2,456.7 370.4,461 373.7,465.3 377,466 380.3,468.2 383.6,468 386.9,465.5 390.2,464.2 393.5,462.6 396.8,462 400.1,460.3 403.3,458 406.6,456 409.9,453 413.2,450.6 416.5,448.8 419.8,444.4 423.1,439.9 426.4,435.5 429.7,432 433,429.1 436.2,426.8 439.5,424.8 442.8,423.3 446.1,421.5 449.4,419.3 452.7,417.8 456,416.9 459.3,416.7 462.6,415.8 465.9,414.9 469.1,414.1 472.4,409.5 475.7,403.4 479,396.7 482.3,391.8 485.6,387.1 488.9,380.6 492.2,376.4 495.5,374.3 498.8,372.8 502,371.8 505.3,369.2 508.6,368.4 511.9,367.1 515.2,365 518.5,361.5 521.8,359.8 525.1,357.7 528.4,355.9 531.6,354.4 534.9,352.7 538.2,352.2 541.5,353.1 544.8,356.1 548.1,358.7 551.4,360.9 554.7,363 558,365.3 561.3,367.9 564.5,372.3 567.8,375.4 571.1,377.7 574.4,379.3 577.7,378.7 581,377.3 584.3,376.9 587.6,378.6 590.9,381 594.2,384 597.5,384.9 600.7,386.2 604,388 607.3,389.9 610.6,391.6 613.9,394.6 617.2,398.5 620.5,402.8 623.8,403.8 627.1,404.3 630.4,405.4 633.6,407.5 636.9,408.5 640.2,407.5 643.5,406 646.8,404.3 650.1,404.7 653.4,403.7 656.7,402.8 660,403 663.2,403.3 666.5,402.6 669.8,402.6 673.1,402.1 676.4,400.3 679.7,397 683,394.4 686.3,392.5 689.6,390.6 692.9,388.8 696.1,386.7 699.4,382.6 702.7,378.4 706,374.2 709.3,370.6 712.6,366.3 715.9,359.1 719.2,350.4 722.5,346.2 725.8,343.9 729.1,340.9 732.3,338.7 735.6,335.8 738.9,334.4 742.2,333.5 745.5,333.6 748.8,335 752.1,338.2 755.4,342.2 758.7,344.9 762,345.7 765.2,347.7 768.5,348.6 771.8,347.7 775.1,346.6 778.4,344.9 781.7,342.8 785,342.8 788.3,338.7 791.6,332.8 794.9,329.7 798.1,328.3 801.4,326.1 804.7,323.9 808,323.9 811.3,325.2 814.6,323.7 817.9,324.2 821.2,319.9 824.5,315.3 827.8,310.7 831,310.8 834.3,309 837.6,305.6 840.9,300.1 844.2,297.2 847.5,295.2 850.8,293.7 854.1,293.1 857.4,289.8 860.6,286.5 863.9,285.5 867.2,284.3 870.5,284.1 873.8,282.4 877.1,279 880.4,275.3 883.7,270.4 887,264.9 890.3,256.9 893.6,249.6 896.8,243.7 900.1,239.6 903.4,235.2 906.7,229.5 910,223.7 913.3,220.4 916.6,217.3 919.9,215.2 923.2,217 926.5,220.1 929.7,223.3 933,230.5 936.3,234.1 939.6,237.9 942.9,239.6 946.2,240.7 949.5,242.6 952.8,241.3 956.1,237.2 959.4,234 962.6,232.2 965.9,230.4 969.2,227.9 972.5,228.5 975.8,227 979.1,227.4 982.4,235.1 985.7,244.6 989,248.8 992.2,249.8 995.5,252.2 998.8,256.4 1002.1,262.2 1005.4,268.2 1008.7,272.1 1012,275.8 1015.3,278.6 1018.6,282.1 1021.9,286.6 1025.1,288 1028.4,288.7 1031.7,289.4 1035,288.6 1038.3,288.2 1041.6,288.9 1044.9,289.6 1048.2,292.3 1051.5,294.1 1054.8,296 1058,297.3 1061.3,303.4 1064.6,311.5 1067.9,317.1 1071.2,323.8 1074.5,328.4 1077.8,333.5 1081.1,336.5 1084.4,338.7 1087.7,343.5 1090.9,348.1 1094.2,354.2 1097.5,361.1 1100.8,367.1 1104.1,373.2 1107.4,380.1 1110.7,384.1 1114,388.5 1117.3,393.3 1120.6,398.8 1123.8,404 1127.1,408.1 1130.4,409.9 1133.7,411.4 1137,411.9 1140.3,412.8 1143.6,414.5 1146.9,416.3 1150.2,418.5 1153.5,422.1 1156.8,422.5 1160,421.5 1163.3,422 1166.6,423.7 1169.9,425.5 1173.2,427 1176.5,428.2 1179.8,428.2 1183.1,428.7 1186.4,429 1189.6,429.5" fill="none" stroke="#2962ff" stroke-width="3.3" stroke-linejoin="round" stroke-linecap="round"/>
</g>
<g clip-path="url(#cr)">
<polygon points="11.8,601.3 11.8,601.3 15.1,601.3 18.4,601.3 21.7,601.3 25,601.3 28.3,601.3 31.6,601.3 34.9,601.3 38.2,601.3 41.4,601.3 44.7,601.3 48,601.3 51.3,601.3 54.6,601.3 57.9,601.3 61.2,601.3 64.5,601.3 67.8,601.3 71,601.3 74.3,601.3 77.6,601.3 80.9,601.3 84.2,601.3 87.5,601.3 90.8,601.3 94.1,601.3 97.4,601.3 100.7,601.3 104,601.3 107.2,601.3 110.5,593.2 113.8,601.3 117.1,601.3 120.4,601.3 123.7,601.3 127,601.3 130.3,601.3 133.6,601.3 136.8,601.3 140.1,601.3 143.4,601.3 146.7,601.3 150,601.3 153.3,601.3 156.6,601.3 159.9,601.3 163.2,601.3 166.5,601.3 169.8,601.3 173,601.3 176.3,601.3 179.6,601.3 182.9,601.3 186.2,601.3 189.5,601.3 192.8,601.3 196.1,601.3 199.4,601.3 202.7,601.3 205.9,601.3 209.2,601.3 212.5,601.3 215.8,601.3 219.1,601.3 222.4,601.3 225.7,601.3 229,601.3 232.3,601.3 235.5,601.3 238.8,601.3 242.1,601.3 245.4,601.3 248.7,601.3 252,601.3 255.3,601.3 258.6,601.3 261.9,601.3 265.2,601.3 268.4,601.3 271.7,601.3 275,601.3 278.3,601.3 281.6,601.3 284.9,601.3 288.2,601.3 291.5,601.3 294.8,601.3 298.1,601.3 301.4,601.3 304.6,601.3 307.9,601.3 311.2,601.3 314.5,601.3 317.8,601.3 321.1,601.3 324.4,601.3 327.7,601.3 331,601.3 334.2,601.3 337.5,601.3 340.8,601.3 344.1,601.3 347.4,601.3 350.7,601.3 354,601.3 357.3,601.3 360.6,601.3 363.9,601.3 367.2,601.3 370.4,601.3 373.7,601.3 377,601.3 380.3,601.3 383.6,601.3 386.9,601.3 390.2,601.3 393.5,601.3 396.8,601.3 400.1,601.3 403.3,601.3 406.6,601.3 409.9,601.3 413.2,601.3 416.5,601.3 419.8,601.3 423.1,601.3 426.4,601.3 429.7,601.3 433,601.3 436.2,601.3 439.5,601.3 442.8,601.3 446.1,601.3 449.4,601.3 452.7,601.3 456,601.3 459.3,601.3 462.6,601.3 465.9,601.3 469.1,601.3 472.4,599.2 475.7,587.7 479,581.4 482.3,600.1 485.6,598 488.9,585.7 492.2,601.3 495.5,601.3 498.8,601.3 502,601.3 505.3,601.3 508.6,601.3 511.9,601.3 515.2,601.3 518.5,601.3 521.8,601.3 525.1,601.3 528.4,601.3 531.6,601.3 534.9,601.3 538.2,601.3 541.5,601.3 544.8,601.3 548.1,601.3 551.4,601.3 554.7,601.3 558,601.3 561.3,601.3 564.5,601.3 567.8,601.3 571.1,601.3 574.4,601.3 577.7,601.3 581,601.3 584.3,601.3 587.6,601.3 590.9,601.3 594.2,601.3 597.5,601.3 600.7,601.3 604,601.3 607.3,601.3 610.6,601.3 613.9,601.3 617.2,601.3 620.5,601.3 623.8,601.3 627.1,601.3 630.4,601.3 633.6,601.3 636.9,601.3 640.2,601.3 643.5,601.3 646.8,601.3 650.1,601.3 653.4,601.3 656.7,601.3 660,601.3 663.2,601.3 666.5,601.3 669.8,601.3 673.1,601.3 676.4,601.3 679.7,601.3 683,601.3 686.3,601.3 689.6,601.3 692.9,601.3 696.1,601.3 699.4,601.3 702.7,601.3 706,601.3 709.3,601.3 712.6,594.8 715.9,576.2 719.2,567.2 722.5,601.3 725.8,601.3 729.1,601.3 732.3,601.3 735.6,601.3 738.9,601.3 742.2,601.3 745.5,601.3 748.8,601.3 752.1,601.3 755.4,601.3 758.7,601.3 762,601.3 765.2,601.3 768.5,601.3 771.8,601.3 775.1,601.3 778.4,601.3 781.7,601.3 785,601.3 788.3,601.3 791.6,601.3 794.9,601.3 798.1,601.3 801.4,601.3 804.7,601.3 808,601.3 811.3,601.3 814.6,601.3 817.9,601.3 821.2,601.3 824.5,601.3 827.8,601.3 831,601.3 834.3,601.3 837.6,601.3 840.9,601.3 844.2,601.3 847.5,601.3 850.8,601.3 854.1,601.3 857.4,601.3 860.6,601.3 863.9,601.3 867.2,601.3 870.5,601.3 873.8,601.3 877.1,601.3 880.4,601.3 883.7,601.3 887,601.3 890.3,599.2 893.6,599.1 896.8,601.3 900.1,601.3 903.4,601.3 906.7,601.3 910,601.3 913.3,601.3 916.6,601.3 919.9,601.3 923.2,601.3 926.5,601.3 929.7,601.3 933,601.3 936.3,601.3 939.6,601.3 942.9,601.3 946.2,601.3 949.5,601.3 952.8,601.3 956.1,601.3 959.4,601.3 962.6,601.3 965.9,601.3 969.2,601.3 972.5,601.3 975.8,601.3 979.1,601.3 982.4,601.3 985.7,601.3 989,601.3 992.2,601.3 995.5,601.3 998.8,601.3 1002.1,601.3 1005.4,601.3 1008.7,601.3 1012,601.3 1015.3,601.3 1018.6,601.3 1021.9,601.3 1025.1,601.3 1028.4,601.3 1031.7,601.3 1035,601.3 1038.3,601.3 1041.6,601.3 1044.9,601.3 1048.2,601.3 1051.5,601.3 1054.8,601.3 1058,601.3 1061.3,601.3 1064.6,601.3 1067.9,601.3 1071.2,601.3 1074.5,601.3 1077.8,601.3 1081.1,601.3 1084.4,601.3 1087.7,601.3 1090.9,601.3 1094.2,601.3 1097.5,601.3 1100.8,601.3 1104.1,601.3 1107.4,601.3 1110.7,601.3 1114,601.3 1117.3,601.3 1120.6,601.3 1123.8,601.3 1127.1,601.3 1130.4,601.3 1133.7,601.3 1137,601.3 1140.3,601.3 1143.6,601.3 1146.9,601.3 1150.2,601.3 1153.5,601.3 1156.8,601.3 1160,601.3 1163.3,601.3 1166.6,601.3 1169.9,601.3 1173.2,601.3 1176.5,601.3 1179.8,601.3 1183.1,601.3 1186.4,601.3 1189.6,601.3 1189.6,601.3" fill="url(#gg)"/>
<polygon points="11.8,711.3 11.8,711.3 15.1,711.3 18.4,711.3 21.7,711.3 25,711.3 28.3,711.3 31.6,711.3 34.9,711.3 38.2,711.3 41.4,711.3 44.7,711.3 48,711.3 51.3,711.3 54.6,711.3 57.9,711.3 61.2,711.3 64.5,711.3 67.8,711.3 71,711.3 74.3,711.3 77.6,711.3 80.9,711.3 84.2,711.3 87.5,711.3 90.8,711.3 94.1,711.3 97.4,711.3 100.7,711.3 104,711.3 107.2,711.3 110.5,711.3 113.8,711.3 117.1,711.3 120.4,711.3 123.7,711.3 127,711.3 130.3,711.3 133.6,711.3 136.8,711.3 140.1,711.3 143.4,711.3 146.7,711.3 150,711.3 153.3,711.3 156.6,711.3 159.9,711.3 163.2,711.3 166.5,711.3 169.8,711.3 173,711.3 176.3,711.3 179.6,711.3 182.9,711.3 186.2,711.3 189.5,711.3 192.8,711.3 196.1,711.3 199.4,711.3 202.7,711.3 205.9,711.3 209.2,711.3 212.5,711.3 215.8,711.3 219.1,711.3 222.4,711.3 225.7,711.3 229,711.3 232.3,723 235.5,717.8 238.8,724.6 242.1,719.6 245.4,711.3 248.7,711.3 252,711.3 255.3,711.3 258.6,711.3 261.9,711.3 265.2,711.3 268.4,711.3 271.7,711.3 275,711.3 278.3,711.3 281.6,711.3 284.9,711.3 288.2,711.3 291.5,711.3 294.8,711.3 298.1,711.3 301.4,711.3 304.6,711.3 307.9,711.3 311.2,711.3 314.5,711.3 317.8,711.3 321.1,711.3 324.4,711.3 327.7,711.3 331,711.3 334.2,711.3 337.5,711.3 340.8,711.3 344.1,711.3 347.4,711.3 350.7,711.3 354,711.3 357.3,711.3 360.6,711.3 363.9,711.3 367.2,711.3 370.4,711.3 373.7,711.3 377,711.3 380.3,711.3 383.6,711.3 386.9,711.3 390.2,711.3 393.5,711.3 396.8,711.3 400.1,711.3 403.3,711.3 406.6,711.3 409.9,711.3 413.2,711.3 416.5,711.3 419.8,711.3 423.1,711.3 426.4,711.3 429.7,711.3 433,711.3 436.2,711.3 439.5,711.3 442.8,711.3 446.1,711.3 449.4,711.3 452.7,711.3 456,711.3 459.3,711.3 462.6,711.3 465.9,711.3 469.1,711.3 472.4,711.3 475.7,711.3 479,711.3 482.3,711.3 485.6,711.3 488.9,711.3 492.2,711.3 495.5,711.3 498.8,711.3 502,711.3 505.3,711.3 508.6,711.3 511.9,711.3 515.2,711.3 518.5,711.3 521.8,711.3 525.1,711.3 528.4,711.3 531.6,711.3 534.9,711.3 538.2,711.3 541.5,711.3 544.8,711.3 548.1,711.3 551.4,711.3 554.7,711.3 558,711.3 561.3,711.3 564.5,711.3 567.8,711.3 571.1,711.3 574.4,711.3 577.7,711.3 581,711.3 584.3,711.3 587.6,711.3 590.9,711.3 594.2,711.3 597.5,711.3 600.7,711.3 604,711.3 607.3,711.3 610.6,711.3 613.9,711.3 617.2,711.3 620.5,711.3 623.8,711.3 627.1,711.3 630.4,711.3 633.6,711.3 636.9,711.3 640.2,711.3 643.5,711.3 646.8,711.3 650.1,711.3 653.4,711.3 656.7,711.3 660,711.3 663.2,711.3 666.5,711.3 669.8,711.3 673.1,711.3 676.4,711.3 679.7,711.3 683,711.3 686.3,711.3 689.6,711.3 692.9,711.3 696.1,711.3 699.4,711.3 702.7,711.3 706,711.3 709.3,711.3 712.6,711.3 715.9,711.3 719.2,711.3 722.5,711.3 725.8,711.3 729.1,711.3 732.3,711.3 735.6,711.3 738.9,711.3 742.2,711.3 745.5,711.3 748.8,711.3 752.1,711.3 755.4,711.3 758.7,711.3 762,711.3 765.2,711.3 768.5,711.3 771.8,711.3 775.1,711.3 778.4,711.3 781.7,711.3 785,711.3 788.3,711.3 791.6,711.3 794.9,711.3 798.1,711.3 801.4,711.3 804.7,711.3 808,711.3 811.3,711.3 814.6,711.3 817.9,711.3 821.2,711.3 824.5,711.3 827.8,711.3 831,711.3 834.3,711.3 837.6,711.3 840.9,711.3 844.2,711.3 847.5,711.3 850.8,711.3 854.1,711.3 857.4,711.3 860.6,711.3 863.9,711.3 867.2,711.3 870.5,711.3 873.8,711.3 877.1,711.3 880.4,711.3 883.7,711.3 887,711.3 890.3,711.3 893.6,711.3 896.8,711.3 900.1,711.3 903.4,711.3 906.7,711.3 910,711.3 913.3,711.3 916.6,711.3 919.9,711.3 923.2,711.3 926.5,711.3 929.7,711.3 933,711.3 936.3,711.3 939.6,711.3 942.9,711.3 946.2,711.3 949.5,711.3 952.8,711.3 956.1,711.3 959.4,711.3 962.6,711.3 965.9,711.3 969.2,711.3 972.5,711.3 975.8,711.3 979.1,711.3 982.4,711.3 985.7,711.3 989,711.3 992.2,711.3 995.5,711.3 998.8,711.3 1002.1,711.3 1005.4,711.3 1008.7,711.3 1012,711.3 1015.3,711.3 1018.6,711.3 1021.9,711.3 1025.1,711.3 1028.4,711.3 1031.7,711.3 1035,711.3 1038.3,711.3 1041.6,711.3 1044.9,711.3 1048.2,711.3 1051.5,711.3 1054.8,711.3 1058,711.3 1061.3,711.3 1064.6,712.7 1067.9,711.3 1071.2,711.3 1074.5,711.3 1077.8,711.3 1081.1,711.3 1084.4,711.3 1087.7,711.3 1090.9,711.3 1094.2,711.3 1097.5,711.3 1100.8,711.3 1104.1,711.3 1107.4,716.6 1110.7,711.3 1114,711.3 1117.3,711.3 1120.6,711.3 1123.8,711.3 1127.1,711.3 1130.4,711.3 1133.7,711.3 1137,711.3 1140.3,711.3 1143.6,711.3 1146.9,711.3 1150.2,711.3 1153.5,711.3 1156.8,711.3 1160,711.3 1163.3,711.3 1166.6,711.3 1169.9,711.3 1173.2,711.3 1176.5,711.3 1179.8,711.3 1183.1,711.3 1186.4,711.3 1189.6,711.3 1189.6,711.3" fill="url(#gr)"/>
<polyline points="11.8,661.7 15.1,665.5 18.4,670 21.7,674.3 25,677.1 28.3,678.9 31.6,680.4 34.9,682.4 38.2,684.6 41.4,685.1 44.7,685.9 48,686.2 51.3,686.5 54.6,686 57.9,682.5 61.2,678.3 64.5,673.5 67.8,669 71,665.2 74.3,664.2 77.6,663.6 80.9,663.4 84.2,662.5 87.5,662.9 90.8,662.7 94.1,663.4 97.4,663.1 100.7,661.4 104,660.7 107.2,660.3 110.5,657.1 113.8,654.6 117.1,653.6 120.4,650.2 123.7,646 127,641.2 130.3,636.7 133.6,632.2 136.8,629.3 140.1,626.5 143.4,625.1 146.7,625.7 150,625.9 153.3,627.5 156.6,633.2 159.9,638.5 163.2,641.6 166.5,645.9 169.8,651.2 173,656.5 176.3,661.5 179.6,666 182.9,668.7 186.2,670.7 189.5,672.3 192.8,674.2 196.1,677.1 199.4,678.6 202.7,679.2 205.9,679.6 209.2,682 212.5,684.4 215.8,686.1 219.1,686.3 222.4,687.3 225.7,688.5 229,690.3 232.3,693.7 235.5,696.5 238.8,699.7 242.1,702.3 245.4,704.1 248.7,705.7 252,703.1 255.3,702 258.6,700.1 261.9,698.1 265.2,697.4 268.4,696.3 271.7,695.9 275,695.8 278.3,694.4 281.6,692.6 284.9,690.2 288.2,688.4 291.5,687 294.8,684.9 298.1,687.4 301.4,687.1 304.6,687.3 307.9,686.5 311.2,686.2 314.5,685.5 317.8,684.6 321.1,682.5 324.4,678.9 327.7,675.9 331,673.8 334.2,671.3 337.5,670.9 340.8,671.4 344.1,671 347.4,670.9 350.7,670.2 354,671.8 357.3,672.6 360.6,672.6 363.9,672.9 367.2,675.4 370.4,678.6 373.7,682.2 377,682.7 380.3,684.2 383.6,683.3 386.9,680.8 390.2,678.8 393.5,676.5 396.8,675.1 400.1,672 403.3,668.4 406.6,666 409.9,662.5 413.2,657.8 416.5,653.6 419.8,647.7 423.1,644 426.4,639.3 429.7,636.4 433,634.9 436.2,633.2 439.5,631.7 442.8,630.1 446.1,628.8 449.4,627.6 452.7,626.8 456,627.1 459.3,627.9 462.6,627.7 465.9,629.1 469.1,630.5 472.4,629.4 475.7,627.1 479,624.1 482.3,622.2 485.6,620 488.9,616.6 492.2,615.2 495.5,615.7 498.8,615.8 502,615.9 505.3,614.2 508.6,614.5 511.9,614.4 515.2,613.8 518.5,615.2 521.8,618.5 525.1,621.9 528.4,624.1 531.6,626.7 534.9,629.8 538.2,632.2 541.5,634.3 544.8,637.5 548.1,640.3 551.4,644 554.7,646.4 558,649.6 561.3,653.6 564.5,659.7 567.8,663.7 571.1,667.5 574.4,670.8 577.7,672.1 581,673.1 584.3,673.8 587.6,674.9 590.9,675.1 594.2,675.8 597.5,675.2 600.7,674.9 604,674.6 607.3,674.1 610.6,672.4 613.9,672.4 617.2,673.7 620.5,675.9 623.8,677.2 627.1,678.9 630.4,680.2 633.6,680.7 636.9,680.1 640.2,677.4 643.5,676 646.8,673.9 650.1,672.8 653.4,670.7 656.7,668.6 660,666.4 663.2,663.6 666.5,659.5 669.8,658.7 673.1,657.7 676.4,655.3 679.7,651.2 683,648.1 686.3,646.9 689.6,646 692.9,645.2 696.1,642.7 699.4,639.7 702.7,636.4 706,632.2 709.3,628 712.6,624.1 715.9,618.2 719.2,612.2 722.5,610.6 725.8,611.1 729.1,610.9 732.3,610.6 735.6,610 738.9,610.4 742.2,611.4 745.5,614.4 748.8,618.6 752.1,624 755.4,629.9 758.7,635.7 762,641.7 765.2,649.1 768.5,652.4 771.8,653.5 775.1,654.9 778.4,655.6 781.7,656.3 785,657.5 788.3,656.4 791.6,653.8 794.9,651.7 798.1,649.2 801.4,645.9 804.7,643 808,642.4 811.3,641.8 814.6,640.5 817.9,641.2 821.2,640.1 824.5,639.1 827.8,638.4 831,638.3 834.3,639.6 837.6,641.2 840.9,640.5 844.2,640.1 847.5,640.3 850.8,640.8 854.1,640.5 857.4,638.4 860.6,637.5 863.9,636.7 867.2,637.8 870.5,639.5 873.8,640.7 877.1,639 880.4,637.8 883.7,636.6 887,635.8 890.3,633.1 893.6,630.1 896.8,627.5 900.1,625.3 903.4,624 906.7,622.2 910,619.1 913.3,617.6 916.6,615.6 919.9,614.8 923.2,617 926.5,620.1 929.7,624.1 933,630.1 936.3,635.5 939.6,641.1 942.9,645.3 946.2,648.4 949.5,652.2 952.8,655.2 956.1,657.2 959.4,658 962.6,659.5 965.9,660.3 969.2,658.6 972.5,657.7 975.8,655.7 979.1,652.8 982.4,654.1 985.7,655.9 989,656.6 992.2,656.6 995.5,656.7 998.8,658.7 1002.1,662.6 1005.4,666.3 1008.7,668.9 1012,671.5 1015.3,674.3 1018.6,676 1021.9,679 1025.1,679.8 1028.4,677.9 1031.7,675.2 1035,673.8 1038.3,673.5 1041.6,673.3 1044.9,672.5 1048.2,672.1 1051.5,671.2 1054.8,670.9 1058,670.4 1061.3,672.3 1064.6,674.6 1067.9,675.3 1071.2,677.8 1074.5,679.7 1077.8,681.9 1081.1,683.9 1084.4,685.3 1087.7,687.3 1090.9,689.4 1094.2,691.2 1097.5,693.8 1100.8,696 1104.1,698.8 1107.4,699.9 1110.7,698.5 1114,698.6 1117.3,698.5 1120.6,699.7 1123.8,700.6 1127.1,702 1130.4,702.3 1133.7,701.4 1137,699.7 1140.3,697.7 1143.6,695.7 1146.9,694.1 1150.2,692.6 1153.5,691.4 1156.8,689.6 1160,686.7 1163.3,684.2 1166.6,682 1169.9,679.9 1173.2,678.2 1176.5,677.8 1179.8,676.6 1183.1,676.3 1186.4,675.7 1189.6,674.9" fill="none" stroke="#fdd835" stroke-width="1.4" stroke-linejoin="round" stroke-linecap="round"/>
<polyline points="11.8,695.6 15.1,693.4 18.4,706.2 21.7,706.9 25,688.6 28.3,677.2 31.6,676.6 34.9,687.6 38.2,692.3 41.4,672.6 44.7,679.8 48,676.5 51.3,679.4 54.6,670.7 57.9,647.6 61.2,634.8 64.5,638.1 67.8,643.5 71,636.4 74.3,662.5 77.6,669 80.9,684.6 84.2,679.1 87.5,678.2 90.8,677.7 94.1,686 97.4,675.5 100.7,646.2 104,638.6 107.2,628.9 110.5,593.2 113.8,608 117.1,622.5 120.4,615.6 123.7,610.5 127,617.1 130.3,616.4 133.6,614 136.8,638.4 140.1,645.9 143.4,656.2 146.7,654.3 150,641.8 153.3,651.3 156.6,673 159.9,682.5 163.2,665.6 166.5,675.3 169.8,685.1 173,690.7 176.3,687.1 179.6,677.4 182.9,675.1 186.2,674.8 189.5,678.4 192.8,680 196.1,683.2 199.4,672.8 202.7,680.1 205.9,688.1 209.2,700.4 212.5,708.7 215.8,708.9 219.1,693.2 222.4,701.5 225.7,694.3 229,699.4 232.3,723 235.5,717.8 238.8,724.6 242.1,719.6 245.4,698.1 248.7,702.9 252,651.3 255.3,685.3 258.6,682.3 261.9,680.2 265.2,682.8 268.4,686.5 271.7,688.5 275,697.8 278.3,704.5 281.6,692.8 284.9,690.9 288.2,694.4 291.5,677.9 294.8,674.2 298.1,685 301.4,682 304.6,685.2 307.9,668.2 311.2,678.6 314.5,676.5 317.8,676.5 321.1,668 324.4,654.7 327.7,650.8 331,661.4 334.2,658.7 337.5,673.4 340.8,680.4 344.1,679.8 347.4,680.1 350.7,675.2 354,690.6 357.3,690.6 360.6,676.2 363.9,681.2 367.2,702.2 370.4,699.4 373.7,701.4 377,669 380.3,679.6 383.6,661.1 386.9,644.5 390.2,651.3 393.5,649.1 396.8,655.7 400.1,646.2 403.3,640.4 406.6,642.4 409.9,632.2 413.2,636.9 416.5,640.4 419.8,619.3 423.1,616.4 426.4,614.8 429.7,620 433,623.3 436.2,627.1 439.5,629.1 442.8,632.6 446.1,628.6 449.4,622.6 452.7,631.7 456,637 459.3,647.6 462.6,638.2 465.9,637.7 469.1,637.2 472.4,599.2 475.7,587.7 479,581.4 482.3,600.1 485.6,598 488.9,585.7 492.2,608.8 495.5,629.4 498.8,633.6 502,638 505.3,624 508.6,641.5 511.9,637.1 515.2,628.7 518.5,618.2 521.8,634.2 525.1,629.8 528.4,630.8 531.6,633.2 534.9,629.5 538.2,643.4 541.5,657.6 544.8,678.9 548.1,677.6 551.4,675.1 554.7,675.8 558,681.3 561.3,685.3 564.5,703 567.8,691 571.1,683.1 574.4,676.6 577.7,651.8 581,642.5 584.3,653.1 587.6,673.5 590.9,681.1 594.2,688.1 597.5,666.4 600.7,671.2 604,677.2 607.3,679.3 610.6,678.1 613.9,692.3 617.2,701.1 620.5,706.6 623.8,669.8 627.1,666.1 630.4,672 633.6,681 636.9,671.6 640.2,651 643.5,646.2 646.8,642.5 650.1,662.1 653.4,649.4 656.7,649.4 660,660.8 663.2,661.2 666.5,649.9 669.8,658.7 673.1,651.6 676.4,638.5 679.7,623.9 683,628.3 686.3,634.6 689.6,633.2 692.9,631.7 696.1,626.5 699.4,607.5 702.7,603.5 706,601.4 709.3,602.8 712.6,594.8 715.9,576.2 719.2,567.2 722.5,616.1 725.8,631.8 729.1,625.4 732.3,630.4 735.6,624.3 738.9,637.4 742.2,641.1 745.5,649.5 748.8,661.6 752.1,677.9 755.4,684.8 758.7,676.4 762,660.4 765.2,670.8 768.5,661.9 771.8,647.6 775.1,644.9 778.4,639.9 781.7,634.5 785,654 788.3,624.8 791.6,613 794.9,632.1 798.1,643.8 801.4,638.1 804.7,636 808,652.6 811.3,662.3 814.6,644 817.9,656.4 821.2,629.9 824.5,626.3 827.8,624.2 831,653.4 834.3,643.2 837.6,634.6 840.9,623 844.2,637.3 847.5,640.9 850.8,643.2 854.1,648.5 857.4,633.1 860.6,631.4 863.9,645.7 867.2,644.4 870.5,650.1 873.8,640.5 877.1,629.9 880.4,626 883.7,618.1 887,612.7 890.3,599.2 893.6,599.1 896.8,606.2 900.1,618.3 903.4,614.5 906.7,605.7 910,602.4 913.3,623.3 916.6,621.9 919.9,630 923.2,660.2 926.5,670.4 929.7,672.9 933,696.8 936.3,674.9 939.6,677.2 942.9,664.8 946.2,662.1 949.5,667.8 952.8,647.3 956.1,630.9 959.4,634.5 962.6,642.9 965.9,641.9 969.2,636.2 972.5,657.9 975.8,644.3 979.1,656.6 982.4,693 985.7,701.9 989,675.6 992.2,661.9 995.5,668.3 998.8,676.5 1002.1,684.4 1005.4,687.1 1008.7,678.6 1012,678.7 1015.3,675.8 1018.6,680.7 1021.9,686.7 1025.1,668.5 1028.4,665.3 1031.7,665.1 1035,655.6 1038.3,658.1 1041.6,665.1 1044.9,665.3 1048.2,679.3 1051.5,673.7 1054.8,675.4 1058,671.8 1061.3,701.5 1064.6,712.7 1067.9,696.7 1071.2,704.3 1074.5,691.6 1077.8,696.1 1081.1,682.5 1084.4,678.1 1087.7,693.6 1090.9,694.6 1094.2,703.9 1097.5,709.9 1100.8,707.4 1104.1,710.3 1107.4,716.6 1110.7,693.9 1114,698.4 1117.3,702.4 1120.6,708 1123.8,709.4 1127.1,701.4 1130.4,682.2 1133.7,681 1137,671.5 1140.3,675.7 1143.6,682.5 1146.9,684.4 1150.2,689.1 1153.5,700.3 1156.8,669 1160,656.7 1163.3,668.1 1166.6,677.3 1169.9,679.4 1173.2,678.3 1176.5,675.4 1179.8,664.3 1183.1,668.1 1186.4,667.3 1189.6,670.2" fill="none" stroke="#7e57c2" stroke-width="3" stroke-linejoin="round" stroke-linecap="round"/>
</g>
<g fill="none" stroke="#9c27b0" stroke-width="1.5" stroke-linecap="round"><path d="M1192.6 535.3A9.6 9.6 0 1 0 1198.9 542.4"/></g>
<path d="M1192.2 539.2L1185.4 544.9H1189.2L1186.2 549.9L1193.5 544.2H1190z" fill="#9c27b0" stroke="#9c27b0" stroke-width="0.5" stroke-linejoin="round"/>
<circle cx="1196.4" cy="537.6" r="2.6" fill="#f23645"/>
<path d="M11 557.5H1342M11 735.5H1342M1277.5 28V762" fill="none" stroke="#e0e3eb" stroke-width="1"/>
<path d="M10 27H1343V763H10z" fill="none" stroke="#f2f3f5" stroke-width="2"/>
<text x="10.4" y="19" textLength="362" lengthAdjust="spacingAndGlyphs">ranadagger created with TradingView.com, Dec 12, 2025 15:32 UTC</text>
<text x="18" y="45.6" textLength="159.6" lengthAdjust="spacingAndGlyphs">SOL / TetherUS · 1D · Binance</text>
<text x="186" y="45.6" textLength="7.6" lengthAdjust="spacingAndGlyphs">O</text>
<text x="194.7" y="45.6" fill="#ef5350" textLength="34.4" lengthAdjust="spacingAndGlyphs">136.41</text>
<text x="237.1" y="45.6" textLength="7.8" lengthAdjust="spacingAndGlyphs">H</text>
<text x="246.1" y="45.6" fill="#ef5350" textLength="34.3" lengthAdjust="spacingAndGlyphs">140.12</text>
<text x="288.4" y="45.6" textLength="5.5" lengthAdjust="spacingAndGlyphs">L</text>
<text x="294.9" y="45.6" fill="#ef5350" textLength="34.3" lengthAdjust="spacingAndGlyphs">135.10</text>
<text x="337.7" y="45.6" textLength="7.1" lengthAdjust="spacingAndGlyphs">C</text>
<text x="345.7" y="45.6" fill="#ef5350" textLength="33.9" lengthAdjust="spacingAndGlyphs">135.26</text>
<text x="387.6" y="45.6" fill="#ef5350" textLength="29.4" lengthAdjust="spacingAndGlyphs">−1.15</text>
<text x="421.5" y="45.6" fill="#ef5350" textLength="44" lengthAdjust="spacingAndGlyphs">(−0.84%)</text>
<text x="18" y="62.7" textLength="81.6" lengthAdjust="spacingAndGlyphs">EMA (20, close)</text>
<text x="108.1" y="62.7" fill="#2962ff" textLength="35.3" lengthAdjust="spacingAndGlyphs">137.54</text>
<text x="18" y="79.6" textLength="80.7" lengthAdjust="spacingAndGlyphs">SMA (50, close)</text>
<text x="107.6" y="79.6" fill="#f23645" textLength="35.1" lengthAdjust="spacingAndGlyphs">152.04</text>
<text x="18.3" y="576.4" textLength="76" lengthAdjust="spacingAndGlyphs">RSI (14, close)</text>
<text x="102.2" y="576.4" fill="#7e57c2" textLength="28.4" lengthAdjust="spacingAndGlyphs">44.73</text>
<text x="138" y="576.4" fill="#fdd835" textLength="29.6" lengthAdjust="spacingAndGlyphs">43.02</text>
<text x="1286.5" y="95.4" textLength="35.3" lengthAdjust="spacingAndGlyphs">280.00</text>
<text x="1286.5" y="190.4" textLength="35.3" lengthAdjust="spacingAndGlyphs">240.00</text>
<text x="1286.5" y="237.9" textLength="35.3" lengthAdjust="spacingAndGlyphs">220.00</text>
<text x="1286.5" y="285.4" textLength="35.3" lengthAdjust="spacingAndGlyphs">200.00</text>
<text x="1286.5" y="332.9" textLength="35.3" lengthAdjust="spacingAndGlyphs">180.00</text>
<text x="1286.5" y="380.4" textLength="35.3" lengthAdjust="spacingAndGlyphs">160.00</text>
<text x="1286.5" y="522.9" textLength="35.3" lengthAdjust="spacingAndGlyphs">100.00</text>
<text x="1286.5" y="578.3" textLength="28.7" lengthAdjust="spacingAndGlyphs">80.00</text>
<text x="1286.5" y="633.3" textLength="28.7" lengthAdjust="spacingAndGlyphs">60.00</text>
<rect x="1281.5" y="31.5" width="57" height="25" rx="3" fill="#fff" stroke="#e0e3eb"/>
<text x="1291" y="48.3" textLength="26" lengthAdjust="spacingAndGlyphs">USDT</text>
<path d="M1278 131.5H1325Q1327 131.5 1327 133.5V145.5Q1327 147.5 1325 147.5H1278Q1278 147.5 1278 147.5V131.5Q1278 131.5 1278 131.5z" fill="#0000ff"/>
<text x="1286.5" y="143.7" fill="#fff" stroke="#fff" stroke-width="0.35" textLength="35.3" lengthAdjust="spacingAndGlyphs">260.00</text>
<path d="M1229 387H1277Q1277 387 1277 387V403.7Q1277 403.7 1277 403.7H1229Q1227 403.7 1227 401.7V389Q1227 387 1229 387z" fill="#f23645"/>
<text x="1232" y="399.6" fill="#fff" stroke="#fff" stroke-width="0.35" textLength="41.3" lengthAdjust="spacingAndGlyphs">SMA:MA</text>
<path d="M1278 387H1325Q1327 387 1327 389V401.7Q1327 403.7 1325 403.7H1278Q1278 403.7 1278 403.7V387Q1278 387 1278 387z" fill="#f23645"/>
<text x="1286.5" y="399.6" fill="#fff" stroke="#fff" stroke-width="0.35" textLength="35.3" lengthAdjust="spacingAndGlyphs">152.04</text>
<path d="M1248.2 409.8H1277Q1277 409.8 1277 409.8V426.6Q1277 426.6 1277 426.6H1248.2Q1246.2 426.6 1246.2 424.6V411.8Q1246.2 409.8 1248.2 409.8z" fill="#2962ff"/>
<text x="1251.1" y="422.5" fill="#fff" stroke="#fff" stroke-width="0.35" textLength="22" lengthAdjust="spacingAndGlyphs">EMA</text>
<path d="M1278 409.8H1325Q1327 409.8 1327 411.8V424.6Q1327 426.6 1325 426.6H1278Q1278 426.6 1278 426.6V409.8Q1278 409.8 1278 409.8z" fill="#2962ff"/>
<text x="1286.5" y="422.5" fill="#fff" stroke="#fff" stroke-width="0.35" textLength="35.3" lengthAdjust="spacingAndGlyphs">137.54</text>
<path d="M1223.3 427.1H1277Q1277 427.1 1277 427.1V443.8Q1277 443.8 1277 443.8H1223.3Q1221.3 443.8 1221.3 441.8V429.1Q1221.3 427.1 1223.3 427.1z" fill="#ef5350"/>
<text x="1225" y="439.4" fill="#fff" stroke="#fff" stroke-width="0.35" textLength="46.8" lengthAdjust="spacingAndGlyphs">SOLUSDT</text>
<path d="M1278 427.1H1336.2Q1338.2 427.1 1338.2 429.1V469.6Q1338.2 471.6 1336.2 471.6H1278Q1278 471.6 1278 471.6V427.1Q1278 427.1 1278 427.1z" fill="#ef5350"/>
<text x="1286.5" y="439.9" fill="#fff" stroke="#fff" stroke-width="0.35" textLength="35.3" lengthAdjust="spacingAndGlyphs">135.26</text>
<text x="1286.3" y="453.6" fill="#fff" stroke="#fff" stroke-width="0.35" textLength="42.5" lengthAdjust="spacingAndGlyphs">−34.51%</text>
<text x="1286.3" y="467.5" fill="#fff" stroke="#fff" stroke-width="0.35" textLength="45.7" lengthAdjust="spacingAndGlyphs" fill-opacity="0.75">08:27:25</text>
<path d="M1278 472.3H1325Q1327 472.3 1327 474.3V486.6Q1327 488.6 1325 488.6H1278Q1278 488.6 1278 488.6V472.3Q1278 472.3 1278 472.3z" fill="#0000ff"/>
<text x="1286.5" y="484.5" fill="#fff" stroke="#fff" stroke-width="0.35" textLength="35.3" lengthAdjust="spacingAndGlyphs">126.00</text>
<path d="M1278 522H1319Q1321 522 1321 524V536.6Q1321 538.6 1319 538.6H1278Q1278 538.6 1278 538.6V522Q1278 522 1278 522z" fill="#0000ff"/>
<text x="1286.5" y="534.4" fill="#fff" stroke="#fff" stroke-width="0.35" textLength="28.7" lengthAdjust="spacingAndGlyphs">95.00</text>
<path d="M1254 662.9H1277Q1277 662.9 1277 662.9V679.8Q1277 679.8 1277 679.8H1254Q1252 679.8 1252 677.8V664.9Q1252 662.9 1254 662.9z" fill="#7e57c2"/>
<text x="1257" y="675.5" fill="#fff" stroke="#fff" stroke-width="0.35" textLength="15.9" lengthAdjust="spacingAndGlyphs">RSI</text>
<path d="M1278 662.9H1319Q1321 662.9 1321 664.9V677.8Q1321 679.8 1319 679.8H1278Q1278 679.8 1278 679.8V662.9Q1278 662.9 1278 662.9z" fill="#7e57c2"/>
<text x="1286.3" y="675.5" fill="#fff" stroke="#fff" stroke-width="0.35" textLength="28.7" lengthAdjust="spacingAndGlyphs">44.73</text>
<path d="M1200.2 680.3H1277Q1277 680.3 1277 680.3V696.6Q1277 696.6 1277 696.6H1200.2Q1198.2 696.6 1198.2 694.6V682.3Q1198.2 680.3 1200.2 680.3z" fill="#fdd835"/>
<text x="1202.9" y="692.8" fill="#131722" textLength="70" lengthAdjust="spacingAndGlyphs">RSI-based MA</text>
<path d="M1278 680.3H1319Q1321 680.3 1321 682.3V694.6Q1321 696.6 1319 696.6H1278Q1278 696.6 1278 696.6V680.3Q1278 680.3 1278 680.3z" fill="#fdd835"/>
<text x="1286.3" y="692.8" fill="#131722" textLength="28.7" lengthAdjust="spacingAndGlyphs">43.02</text>
<text x="54.6" y="752.5" text-anchor="middle" font-weight="bold">2025</text>
<text x="156.6" y="752.5" text-anchor="middle">Feb</text>
<text x="248.7" y="752.5" text-anchor="middle">Mar</text>
<text x="350.7" y="752.5" text-anchor="middle">Apr</text>
<text x="449.4" y="752.5" text-anchor="middle">May</text>
<text x="551.4" y="752.5" text-anchor="middle">Jun</text>
<text x="650.1" y="752.5" text-anchor="middle">Jul</text>
<text x="752.1" y="752.5" text-anchor="middle">Aug</text>
<text x="854.1" y="752.5" text-anchor="middle">Sep</text>
<text x="952.8" y="752.5" text-anchor="middle">Oct</text>
<text x="1054.8" y="752.5" text-anchor="middle">Nov</text>
<text x="1153.5" y="752.5" text-anchor="middle">Dec</text>
<text x="1255.4" y="752.5" text-anchor="middle" font-weight="bold">2026</text>
<g transform="translate(12,781.5) scale(0.8333)" fill="#111"><path d="M14 22H7V11H0V4h14v18z"/><circle cx="20" cy="8" r="4"/><path d="M28 22h-8l7.5-18h8L28 22z"/></g>
<text x="49.3" y="800" fill="#111" font-weight="bold" font-size="21px" textLength="120.6" lengthAdjust="spacingAndGlyphs">TradingView</text>
</svg></body></html>
